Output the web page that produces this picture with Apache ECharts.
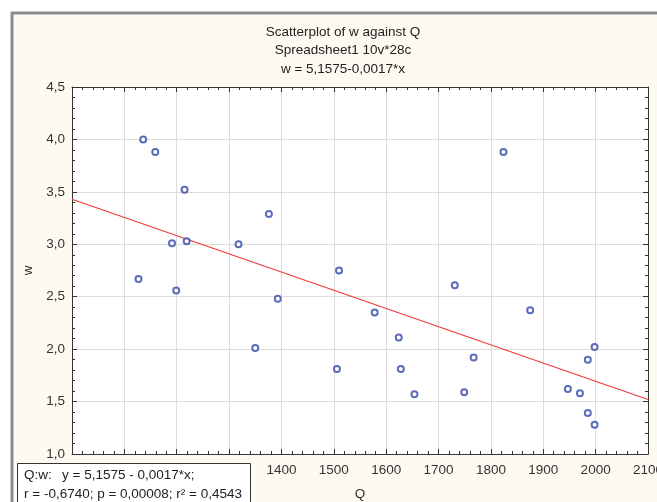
<!DOCTYPE html>
<html>
<head>
<meta charset="utf-8">
<script src="https://cdn.jsdelivr.net/npm/echarts@6/dist/echarts.min.js"></script>
<style>
html,body{margin:0;padding:0;background:#ffffff;}
#chart{width:657px;height:502px;}
</style>
</head>
<body>
<div id="chart"></div>
<script>
// Data
const qValues = [1136, 1159, 1215, 1376, 1191, 1219, 1318, 1127, 1199, 1393,
                 1510, 1578, 1350, 1624, 1506, 1628, 1654, 1767, 1749,
                 1824, 1731, 1875, 1998, 1985, 1947, 1970, 1985, 1998];
const wValues = [4.00, 3.88, 3.52, 3.29, 3.01, 3.03, 3.00, 2.67, 2.56, 2.48,
                 2.75, 2.35, 2.01, 2.11, 1.81, 1.81, 1.57, 1.92, 1.59,
                 3.88, 2.61, 2.37, 2.02, 1.90, 1.62, 1.58, 1.39, 1.28];
const fitQ = [1000, 2100];
const fitW = [3.43, 1.52];
const titleLines = ['Scatterplot of w against Q', 'Spreadsheet1 10v*28c', 'w = 5,1575-0,0017*x'];
const statLabel = 'Q:w:';
const statLine1 = 'y = 5,1575 - 0,0017*x;';
const statLine2 = 'r = -0,6740; p = 0,00008; r² = 0,4543';
const xName = 'Q';
const yName = 'w';

const FONT = 'Liberation Sans, Arial, sans-serif';
const points = qValues.map((q, i) => [q, wValues[i]]);
const fitLine = fitQ.map((q, i) => [q, fitW[i]]);

const chart = echarts.init(document.getElementById('chart'), null, {renderer: 'canvas'});

const axisCommon = {
  type: 'value',
  axisLine: {show: true, lineStyle: {color: '#333', width: 1}},
  axisTick: {show: true, inside: true, length: 5, lineStyle: {color: '#333'}},
  minorTick: {show: true, splitNumber: 5, length: 3, lineStyle: {color: '#333'}},
  splitLine: {show: false},
  axisLabel: {show: false}
};

chart.setOption({
  animation: false,
  backgroundColor: 'transparent',
  grid: {left: 72, right: 9, top: 87, bottom: 48, show: true, backgroundColor: '#ffffff', borderWidth: 0,
         containLabel: false, outerBoundsMode: 'none'},
  xAxis: [
    Object.assign({}, axisCommon, {
      position: 'bottom', min: 1000, max: 2100, interval: 100,
      splitLine: {show: true, lineStyle: {color: '#dcdcdc', width: 1}},
      axisLabel: {show: true, fontFamily: FONT, fontSize: 13.5, color: '#333', margin: 9,
        formatter: v => String(v)},
      name: xName, nameLocation: 'middle', nameGap: 33,
      nameTextStyle: {fontFamily: FONT, fontSize: 13.5, color: '#333'}
    }),
    Object.assign({}, axisCommon, {position: 'top', min: 1000, max: 2100, interval: 100})
  ],
  yAxis: [
    Object.assign({}, axisCommon, {
      position: 'left', min: 1, max: 4.5, interval: 0.5,
      splitLine: {show: true, lineStyle: {color: '#dcdcdc', width: 1}},
      axisLabel: {show: true, fontFamily: FONT, fontSize: 13.5, color: '#333', margin: 7,
        formatter: v => v.toFixed(1).replace('.', ',')},
      name: yName, nameLocation: 'middle', nameGap: 37, nameRotate: 90,
      nameTextStyle: {fontFamily: FONT, fontSize: 13.5, color: '#333'}
    }),
    Object.assign({}, axisCommon, {position: 'right', min: 1, max: 4.5, interval: 0.5})
  ],
  series: [
    {
      type: 'line', data: fitLine, xAxisIndex: 0, yAxisIndex: 0,
      showSymbol: false, silent: true,
      lineStyle: {color: '#f03a3a', width: 1.2}, z: 2
    },
    {
      type: 'scatter', data: points, xAxisIndex: 0, yAxisIndex: 0,
      symbol: 'emptyCircle', symbolSize: 6,
      itemStyle: {color: '#3347a8', borderWidth: 1.2}, z: 3
    }
  ],
  graphic: [
    {type: 'rect', z: -100, silent: true,
     shape: {x: 12, y: 13, width: 700, height: 600},
     style: {fill: '#fffaf1', stroke: '#8c8c8c', lineWidth: 3}},
    {type: 'text', z: 10, x: 343, y: 32, style: {text: titleLines[0], font: '13.5px ' + FONT, fill: '#222', textAlign: 'center', textVerticalAlign: 'middle'}},
    {type: 'text', z: 10, x: 343, y: 50, style: {text: titleLines[1], font: '13.5px ' + FONT, fill: '#222', textAlign: 'center', textVerticalAlign: 'middle'}},
    {type: 'text', z: 10, x: 343, y: 69, style: {text: titleLines[2], font: '13.5px ' + FONT, fill: '#222', textAlign: 'center', textVerticalAlign: 'middle'}},
    {type: 'rect', z: 100, silent: true,
     shape: {x: 17.5, y: 463.5, width: 233, height: 60},
     style: {fill: '#ffffff', stroke: '#333', lineWidth: 1}},
    {type: 'text', z: 101, x: 24, y: 475, style: {text: statLabel, font: '13.5px ' + FONT, fill: '#222', textVerticalAlign: 'middle'}},
    {type: 'text', z: 101, x: 62, y: 475, style: {text: statLine1, font: '13.5px ' + FONT, fill: '#222', textVerticalAlign: 'middle'}},
    {type: 'text', z: 101, x: 24, y: 494, style: {text: statLine2, font: '13.5px ' + FONT, fill: '#222', textVerticalAlign: 'middle'}}
  ]
});
</script>
</body>
</html>
